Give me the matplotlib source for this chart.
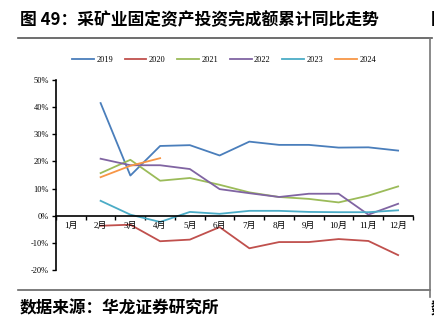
import numpy as np
import matplotlib
matplotlib.use("Agg")
import matplotlib.pyplot as plt
from matplotlib.lines import Line2D

plt.rcParams['font.family'] = ['Noto Sans CJK SC', 'DejaVu Sans']

months = ['1月', '2月', '3月', '4月', '5月', '6月', '7月', '8月', '9月', '10月', '11月', '12月']
# cumulative YoY growth (%), Feb..Dec (Jan has no value)
y2019 = [None, 41.5, 14.8, 25.7, 26.0, 22.2, 27.3, 26.1, 26.1, 25.1, 25.2, 24.0]
y2020 = [None, -3.7, -3.3, -9.4, -8.8, -4.2, -12.0, -9.7, -9.7, -8.6, -9.3, -14.5]
y2021 = [None, 15.7, 20.6, 12.9, 13.9, 11.4, 8.6, 6.9, 6.2, 4.9, 7.4, 10.8]
y2022 = [None, 21.0, 18.6, 18.6, 17.2, 9.8, 8.3, 6.9, 8.1, 8.1, 0.4, 4.4]
y2023 = [None, 5.5, 0.4, -2.3, 1.4, 0.7, 1.8, 1.8, 1.4, 1.3, 1.3, 2.0]
y2024 = [None, 14.2, 18.4, 21.2]

series = [('2019', y2019, '#4A7EBB'), ('2020', y2020, '#C0504D'),
          ('2021', y2021, '#9BBB59'), ('2022', y2022, '#8064A2'),
          ('2023', y2023, '#4BACC6'), ('2024', y2024, '#F79646')]

fig = plt.figure(figsize=(4.35, 3.25), dpi=100)
ax = fig.add_axes([0.1287, 0.1692, 0.8207, 0.5846])

x = np.arange(1, 13)
handles = []
for name, vals, col in series:
    v = np.array([np.nan if a is None else a for a in vals], dtype=float)
    h, = ax.plot(x[:len(v)], v, color=col, lw=1.3, label=name)
    handles.append(h)

ax.set_xlim(0.5, 12.5)
ax.set_ylim(-20, 50)
ax.set_yticks(np.arange(-20, 51, 10))
ax.set_yticklabels([f'{t}%' for t in range(-20, 51, 10)], fontsize=6,
                   family=['Liberation Serif'])
ax.spines['top'].set_visible(False)
ax.spines['right'].set_visible(False)
ax.spines['bottom'].set_position(('data', 0))
ax.spines['left'].set_linewidth(1.2)
ax.spines['bottom'].set_linewidth(1.2)
ax.set_xticks(np.arange(0.5, 13, 1))
ax.set_xticklabels([])
ax.tick_params(axis='x', direction='out', length=3, width=1)
ax.tick_params(axis='y', direction='out', length=3, width=1, pad=2)
for i, m in enumerate(months):
    ax.text(i + 1, -2.3, m, ha='center', va='top', fontsize=6.5,
            family=['Liberation Serif', 'Noto Sans CJK SC'])

fig.legend(handles=handles, loc='center', bbox_to_anchor=(0.515, 0.815), ncol=6,
           frameon=False, handlelength=2.6, columnspacing=1.4,
           handletextpad=0.3, prop={'family': 'Liberation Serif', 'size': 6})

fig.text(0.046, 0.938, '图 49：采矿业固定资产投资完成额累计同比走势', fontsize=12.1,
         fontweight='bold', va='center', ha='left')
fig.text(0.046, 0.052, '数据来源：华龙证券研究所', fontsize=12,
         fontweight='bold', va='center', ha='left')
# edges of the neighbouring column, cut off by the page border
fig.text(0.99, 0.938, '图', fontsize=12.1, fontweight='bold', va='center', ha='left')
fig.text(0.99, 0.052, '数', fontsize=12, fontweight='bold', va='center', ha='left')

# frame lines around the chart block
fig.add_artist(Line2D([18 / 435, 432 / 435], [1 - 37.5 / 325] * 2, color='#555555', lw=1.2))
fig.add_artist(Line2D([18 / 435, 430 / 435], [1 - 289.5 / 325] * 2, color='#666666', lw=1.2))
fig.add_artist(Line2D([430 / 435] * 2, [1 - 37.5 / 325, 1 - 297 / 325], color='#777777', lw=1.2))

fig.savefig('out.png', dpi=100)
